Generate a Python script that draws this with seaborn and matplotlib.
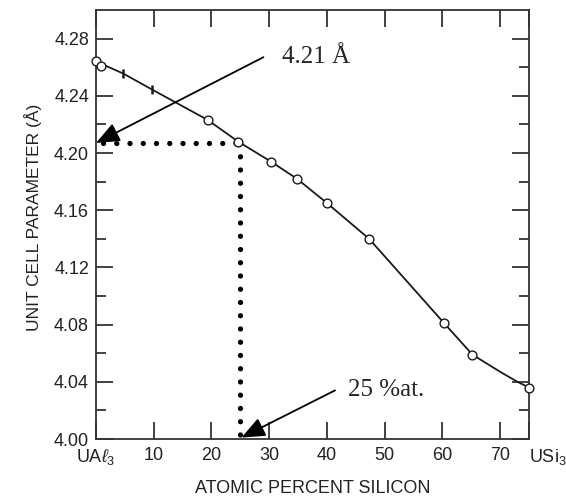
import matplotlib
matplotlib.use("Agg")
import matplotlib.pyplot as plt
import matplotlib.transforms as mtransforms
import seaborn as sns
import pandas as pd
import numpy as np

# ---- data ----
curve_x = [0, 4.7, 9.7, 19.4, 24.6, 30.3, 34.8, 40.0, 47.3, 60.3, 65.2, 70.0, 73.0, 75]
curve_y = [4.264, 4.2556, 4.2444, 4.223, 4.208, 4.194, 4.182, 4.165, 4.140, 4.081, 4.059, 4.047, 4.040, 4.036]

circle_x = [0, 0.8, 19.4, 24.6, 30.3, 34.8, 40.0, 47.3, 60.3, 65.2, 75]
circle_y = [4.264, 4.261, 4.223, 4.208, 4.194, 4.182, 4.165, 4.140, 4.081, 4.059, 4.036]

err_x = [4.7, 9.7]
err_y = [4.2556, 4.2444]
err_h = [0.003, 0.003]

x_ticks = [0, 10, 20, 30, 40, 50, 60, 70, 75]
x_labels = [r"UA$\ell_3$", "10", "20", "30", "40", "50", "60", "70", r"USi$_3$"]
y_ticks = [4.00, 4.04, 4.08, 4.12, 4.16, 4.20, 4.24, 4.28]
y_labels = ["4.00", "4.04", "4.08", "4.12", "4.16", "4.20", "4.24", "4.28"]
y_minor = [4.02, 4.06, 4.10, 4.14, 4.18, 4.22, 4.26]

marked_x = 25
marked_y = 4.207
ann_lattice = "4.21 Å"
ann_comp = "25 %at."

sns.set_theme(style="ticks")
sans = ['Liberation Sans', 'DejaVu Sans']
plt.rcParams['font.family'] = sans
plt.rcParams['mathtext.fontset'] = 'custom'
plt.rcParams['mathtext.rm'] = 'Liberation Sans'
plt.rcParams['mathtext.it'] = 'Liberation Sans:italic'

fig = plt.figure(figsize=(5.66, 5.03), dpi=100)
ax = fig.add_axes([96/566, 1-439/503, (529-96)/566, (439-10)/503])

ink = "#1a1a1a"
df_curve = pd.DataFrame({"x": curve_x, "y": curve_y})
df_circ = pd.DataFrame({"x": circle_x, "y": circle_y})

sns.lineplot(data=df_curve, x="x", y="y", ax=ax, color=ink, lw=1.3, sort=True)
sns.scatterplot(data=df_circ, x="x", y="y", ax=ax, marker="o", s=40,
                facecolor="white", edgecolor=ink, linewidth=1.0, zorder=5, clip_on=False)
ax.errorbar(err_x, err_y, yerr=err_h, fmt="none", ecolor=ink, elinewidth=1.8, capsize=0)

# dotted guide lines
for xs, ys in (([1.2, marked_x], [marked_y, marked_y]), ([marked_x, marked_x], [marked_y, 4.0])):
    l, = ax.plot(xs, ys, color="black", lw=3.8, linestyle=(0, (0.01, 2.5)))
    l.set_dash_capstyle("round")
    l.set_clip_on(False)

# annotations with arrows
serif = ["Liberation Serif", "DejaVu Serif"]
arrow_kw = dict(arrowstyle="-|>,head_length=1.2,head_width=0.5", color="black", lw=1.3,
                shrinkA=0, shrinkB=0)
ax.annotate("", xy=(0, marked_y), xytext=(29.0, 4.267),
            arrowprops=arrow_kw, annotation_clip=False)
ax.text(32.3, 4.267, ann_lattice, family=serif, fontsize=18, va="center", ha="left")
ax.annotate("", xy=(25.2, 4.001), xytext=(41.4, 4.034),
            arrowprops=arrow_kw, annotation_clip=False)
ax.text(43.7, 4.034, ann_comp, family=serif, fontsize=18, va="center", ha="left")

ax.set_xlim(0, 75)
ax.set_ylim(4.00, 4.30)
ax.set_xticks(x_ticks)
ax.set_xticklabels(x_labels, fontsize=13)
ax.set_yticks(y_ticks)
ax.set_yticklabels(y_labels, fontsize=13)
ax.set_yticks(y_minor, minor=True)

# last x label sits just right of the frame, as in the original
last = ax.get_xticklabels()[-1]
last.set_horizontalalignment("left")
last.set_transform(last.get_transform() + mtransforms.ScaledTranslation(-3/100, 0, fig.dpi_scale_trans))

for s in ax.spines.values():
    s.set_visible(True)
    s.set_color("#333333")
    s.set_linewidth(1.3)

ax.tick_params(axis="both", which="major", direction="in", length=12, width=1.3,
               color="#333333", top=True, right=True, labelcolor="#222222")
ax.tick_params(axis="y", which="minor", direction="in", length=7, width=1.3,
               color="#333333", left=True, right=True)
ax.tick_params(axis="y", which="major", pad=5)
ax.tick_params(axis="x", which="major", pad=6)

ax.set_xlabel("ATOMIC PERCENT SILICON", fontsize=13, color="#222222", labelpad=9)
ax.set_ylabel("UNIT CELL PARAMETER (Å)", fontsize=12.5, color="#222222")
ax.yaxis.set_label_coords(-0.124, 0.517)

fig.savefig("out.png", dpi=100, facecolor="white")
